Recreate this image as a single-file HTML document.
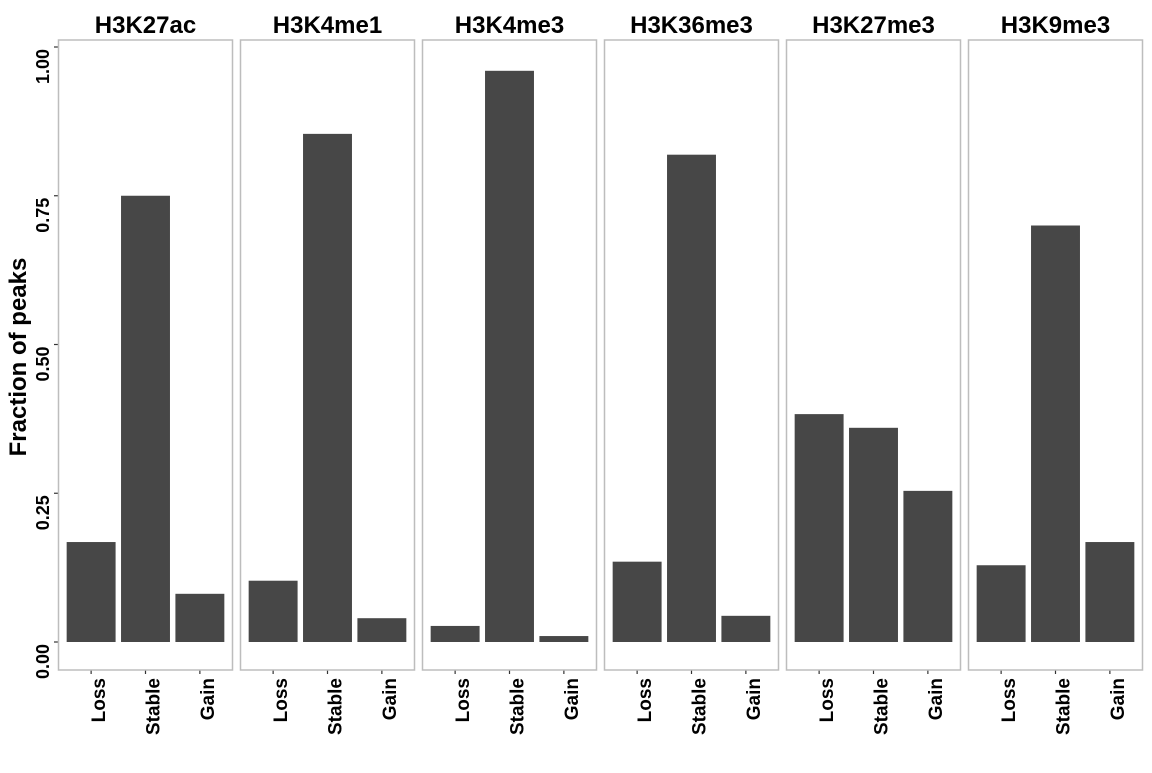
<!DOCTYPE html>
<html><head><meta charset="utf-8"><style>
body{margin:0;background:#fff}
svg text{font-family:"Liberation Sans",Arial,sans-serif;font-weight:bold;fill:#000}
</style></head><body>
<svg width="1152" height="768">
<g id="g"></g>
</svg>
<script>
const panels=["H3K27ac","H3K4me1","H3K4me3","H3K36me3","H3K27me3","H3K9me3"];
const categories=["Loss","Stable","Gain"];
const lossVals=[0.168,0.103,0.027,0.135,0.383,0.129];
const stableVals=[0.750,0.854,0.960,0.819,0.360,0.700];
const gainVals=[0.081,0.040,0.010,0.044,0.254,0.168];
const yTicks=[0,0.25,0.5,0.75,1.0];
const yTickLabels=["0.00","0.25","0.50","0.75","1.00"];
const ns="http://www.w3.org/2000/svg",g=document.getElementById('g');
function mk(t,a,txt){const e=document.createElementNS(ns,t);for(const k in a)e.setAttribute(k,a[k]);if(txt!=null)e.textContent=txt;g.appendChild(e);return e;}
const plotTop=40,bot=670,pw=174,gap=8,left0=58.5;
const y=v=>642-v*595;
function xc(p,i){return left0+p*(pw+gap)+pw*(0.6+i)/3.2;}
const series=[lossVals,stableVals,gainVals];
let t=mk('text',{x:0,y:0,'font-size':24,'text-anchor':'middle',transform:'translate(26,357) rotate(-90)'},'Fraction of peaks');


yTicks.forEach((v,i)=>{
 let l=mk('line',{x1:54,x2:58,y1:y(v),y2:y(v),stroke:'#333','stroke-width':1.2});
 
 
 let tx=mk('text',{x:0,y:0,'font-size':18,'text-anchor':'end',transform:`translate(49,${y(v)+2}) rotate(-90)`},yTickLabels[i]);
 
 
});
panels.forEach((name,p)=>{
 const L=left0+p*(pw+gap);
 let s=mk('text',{x:L+pw/2,y:33,'font-size':24,'text-anchor':'middle'},name);
 
 
 categories.forEach((c,i)=>{
  const cx=xc(p,i),bw=pw*0.9/3.2,v=series[i][p];
  let b=mk('rect',{x:cx-bw/2,y:y(v),width:bw,height:y(0)-y(v),fill:'#474747'});
  
  
  let tk=mk('line',{x1:cx,x2:cx,y1:bot,y2:bot+4,stroke:'#333','stroke-width':1.2});
  
  
  let lb=mk('text',{x:0,y:0,'font-size':19,'text-anchor':'end',transform:`translate(${cx+14},${bot+8}) rotate(-90)`},c);
  
  
 });
 let r=mk('rect',{x:L,y:plotTop,width:pw,height:bot-plotTop,fill:'none',stroke:'#bdbdbd','stroke-width':1.5});
 
 
});
</script>
</body></html>
